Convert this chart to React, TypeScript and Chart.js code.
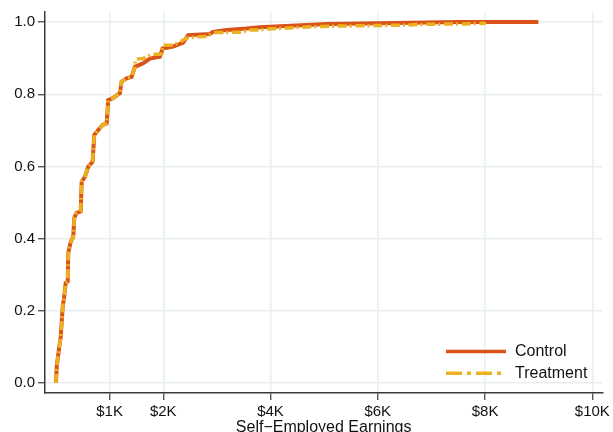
import React, { useEffect, useRef } from 'react';
import { Chart, registerables } from 'chart.js';

Chart.register(...registerables);

const FONT = '"Liberation Sans", Arial, Helvetica, sans-serif';

// Empirical CDF of self-employed earnings (dollars, cumulative share)
const controlEarnings = [0, 13, 61, 88, 125, 149, 181, 218, 229, 274, 322, 341, 385, 460, 479, 540, 601, 683, 713, 788, 870, 944, 974, 1061, 1192, 1223, 1317, 1410, 1471, 1626, 1750, 1937, 1987, 2184, 2371, 2464, 2868, 2924, 3184, 3551, 3799, 5047, 7523, 8994];
const controlCdf = [0, 0.045, 0.1, 0.128, 0.211, 0.235, 0.277, 0.281, 0.36, 0.391, 0.405, 0.457, 0.471, 0.475, 0.558, 0.571, 0.599, 0.613, 0.687, 0.701, 0.715, 0.719, 0.784, 0.789, 0.803, 0.835, 0.844, 0.848, 0.876, 0.886, 0.899, 0.904, 0.927, 0.932, 0.943, 0.964, 0.967, 0.973, 0.978, 0.982, 0.986, 0.995, 1.0, 1.0];

const treatmentEarnings = [0, 13, 61, 88, 125, 149, 181, 218, 229, 274, 322, 341, 385, 460, 479, 540, 601, 683, 713, 788, 870, 944, 974, 1061, 1192, 1223, 1317, 1410, 1471, 1480, 1620, 1788, 1937, 1975, 1995, 2190, 2309, 2440, 2626, 2775, 2961, 3426, 3613, 3762, 3948, 4115, 4600, 4786, 5289, 6276, 6965, 7635, 7989, 8000];
const treatmentCdf = [0, 0.045, 0.1, 0.128, 0.211, 0.235, 0.277, 0.281, 0.36, 0.391, 0.405, 0.457, 0.471, 0.475, 0.558, 0.571, 0.599, 0.613, 0.687, 0.701, 0.715, 0.719, 0.784, 0.789, 0.803, 0.835, 0.844, 0.848, 0.876, 0.897, 0.899, 0.911, 0.911, 0.913, 0.936, 0.936, 0.945, 0.956, 0.959, 0.96, 0.971, 0.972, 0.978, 0.978, 0.981, 0.982, 0.986, 0.987, 0.989, 0.991, 0.994, 0.995, 0.997, 1.0];

const xTickValues = [1000, 2000, 4000, 6000, 8000, 10000];
const yTickValues = [0, 0.2, 0.4, 0.6, 0.8, 1.0];

const seriesNames = ['Control', 'Treatment'];
const xTitle = 'Self\u2212Employed Earnings';

const RED = '#D95319';
const YELLOW = '#EDB120';
const AXIS = '#3a3a3a';
const GRID = '#e7eff1';
const TEXT = '#111111';

const overlayPlugin = {
  id: 'overlay',
  afterDraw(chart: any) {
    const ctx = chart.ctx;
    const area = chart.chartArea;
    ctx.save();
    // legend
    const items = [
      { name: seriesNames[0], color: RED, dash: [] as number[], width: 3.5, y: 351.5 },
      { name: seriesNames[1], color: YELLOW, dash: [16, 5, 4, 5], width: 3.5, y: 373.3 },
    ];
    for (const it of items) {
      ctx.beginPath();
      ctx.setLineDash(it.dash);
      ctx.strokeStyle = it.color;
      ctx.lineWidth = it.width;
      ctx.lineCap = 'butt';
      ctx.moveTo(446, it.y);
      ctx.lineTo(506, it.y);
      ctx.stroke();
      ctx.setLineDash([]);
      ctx.fillStyle = TEXT;
      ctx.font = `16px ${FONT}`;
      ctx.textAlign = 'left';
      ctx.textBaseline = 'middle';
      ctx.fillText(it.name, 515, it.y + 0.5);
    }
    // x-axis title
    ctx.font = `16px ${FONT}`;
    ctx.textAlign = 'center';
    ctx.textBaseline = 'alphabetic';
    ctx.fillStyle = TEXT;
    ctx.fillText(xTitle, (area.left + area.right) / 2, 431.5);
    ctx.restore();
  },
};

export default function App() {
  const ref = useRef<HTMLCanvasElement>(null);
  useEffect(() => {
    document.body.style.margin = '0';
    const canvas = ref.current!;
    const chart = new Chart(canvas, {
      type: 'line',
      data: {
        datasets: [
          {
            label: seriesNames[0],
            data: controlEarnings.map((x, i) => ({ x, y: controlCdf[i] })),
            borderColor: RED,
            backgroundColor: RED,
            borderWidth: 4,
            pointRadius: 0,
            tension: 0,
            order: 2,
          },
          {
            label: seriesNames[1],
            data: treatmentEarnings.map((x, i) => ({ x, y: treatmentCdf[i] })),
            borderColor: YELLOW,
            backgroundColor: YELLOW,
            borderWidth: 3.5,
            borderDash: [9, 3, 2, 3.7],
            pointRadius: 0,
            tension: 0,
            order: 1,
          },
        ],
      },
      options: {
        animation: false,
        responsive: false,
        devicePixelRatio: 1,
        layout: { padding: { top: 12, right: 10, left: 0, bottom: 0 } },
        plugins: { legend: { display: false }, tooltip: { enabled: false }, title: { display: false } },
        scales: {
          x: {
            type: 'linear',
            min: -205,
            max: 10186,
            afterBuildTicks: (s: any) => {
              s.ticks = xTickValues.map((v) => ({ value: v }));
            },
            afterFit: (s: any) => {
              s.height = 39;
            },
            ticks: {
              callback: (v: any) => '$' + Number(v) / 1000 + 'K',
              font: { family: FONT, size: 15 },
              color: TEXT,
              padding: 3,
              maxRotation: 0,
              autoSkip: false,
            },
            grid: { color: GRID, lineWidth: 1.5, tickColor: AXIS, tickLength: 7, tickWidth: 1.2 },
            border: { color: AXIS, width: 1.5 },
          },
          y: {
            type: 'linear',
            min: -0.028,
            max: 1.028,
            afterBuildTicks: (s: any) => {
              s.ticks = yTickValues.map((v) => ({ value: v }));
            },
            afterFit: (s: any) => {
              s.width = 45;
            },
            ticks: {
              callback: (v: any) => Number(v).toFixed(1),
              font: { family: FONT, size: 15 },
              color: TEXT,
              padding: 3,
              autoSkip: false,
            },
            grid: { color: GRID, lineWidth: 1.5, tickColor: AXIS, tickLength: 7, tickWidth: 1.2 },
            border: { color: AXIS, width: 1.5 },
          },
        },
      },
      plugins: [overlayPlugin],
    });
    return () => chart.destroy();
  }, []);
  return (
    <div style={{ position: 'absolute', left: 0, top: 0, width: 613, height: 432, background: '#fff' }}>
      <canvas ref={ref} width={613} height={432} style={{ display: 'block' }} />
    </div>
  );
}
